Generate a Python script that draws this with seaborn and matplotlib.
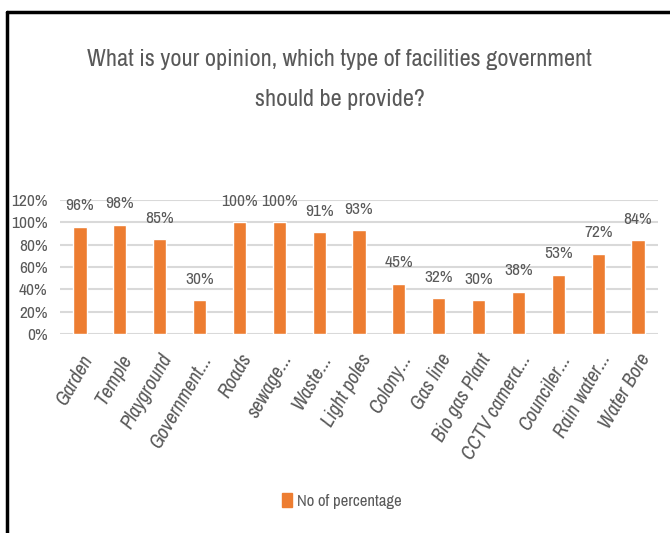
import numpy as np
import pandas as pd
from matplotlib import pyplot as plt
from matplotlib.lines import Line2D
from matplotlib.patches import Patch
import seaborn as sns

# chart data
categories = ['Garden', 'Temple', 'Playground', 'Government...', 'Roads', 'sewage...',
              'Waste...', 'Light poles', 'Colony...', 'Gas line', 'Bio gas Plant',
              'CCTV camera...', 'Counciler...', 'Rain water...', 'Water Bore']
values = [0.96, 0.98, 0.85, 0.30, 1.00, 1.00, 0.91, 0.93, 0.45, 0.32, 0.30, 0.38, 0.53, 0.72, 0.84]
labels = ['96%', '98%', '85%', '30%', '100%', '100%', '91%', '93%', '45%', '32%', '30%',
          '38%', '53%', '72%', '84%']
yticks = [0, 0.2, 0.4, 0.6, 0.8, 1.0, 1.2]
ytick_labels = ['0%', '20%', '40%', '60%', '80%', '100%', '120%']
series_name = 'No of percentage'

df = pd.DataFrame({'facility': categories, 'pct': values})

sns.set_style('white')
plt.rcParams['font.family'] = ['Archivo Narrow', 'PT Sans Narrow', 'Roboto Condensed',
                               'Open Sans Condensed', 'DejaVu Sans']
text_col = '#595959'
bar_col = '#ED7D31'

fig = plt.figure(figsize=(6.7, 5.33), dpi=100)
ax = fig.add_axes([0.0896, 0.3734, 0.8924, 0.2514])
sns.barplot(data=df, x='facility', y='pct', color=bar_col, width=0.33, ax=ax, saturation=1)

ax.set_xlim(-0.5, 14.5)
ax.set_ylim(0, 1.2)
ax.set_yticks(yticks)
ax.set_yticklabels(ytick_labels, fontsize=12.5, color=text_col)
ax.set_xlabel('')
ax.set_ylabel('')
ax.yaxis.grid(True, color='#D9D9D9', linewidth=1.5)
ax.set_axisbelow(True)
for s in ax.spines.values():
    s.set_visible(False)
ax.tick_params(axis='y', length=0, pad=9)
ax.tick_params(axis='x', length=0, pad=12)
ax.set_xticks(range(len(categories)))
ax.set_xticklabels(categories, rotation=60, ha='right', rotation_mode='anchor',
                   fontsize=14.5, color=text_col, style='italic')

for i, (v, t) in enumerate(zip(values, labels)):
    ax.text(i, v + 0.12, t, ha='center', va='bottom', fontsize=12.5, color=text_col)

fig.text(0.507, 0.888, 'What is your opinion, which type of facilities government',
         ha='center', va='center', fontsize=17.5, color=text_col)
fig.text(0.507, 0.813, 'should be provide?', ha='center', va='center',
         fontsize=17.5, color=text_col)

fig.legend(handles=[Patch(color=bar_col, label=series_name)], loc='center',
           bbox_to_anchor=(0.51, 0.06), frameon=False, fontsize=12,
           handlelength=0.6, handleheight=0.9, handletextpad=0.3, labelcolor=text_col)

# outer frame (top and left edges)
fig.add_artist(Line2D([0.0105, 1.0], [0.978, 0.978], color='black', linewidth=2.5))
fig.add_artist(Line2D([0.0105, 0.0105], [0.0, 0.978], color='black', linewidth=2.5))

fig.savefig('out.png', dpi=100)
